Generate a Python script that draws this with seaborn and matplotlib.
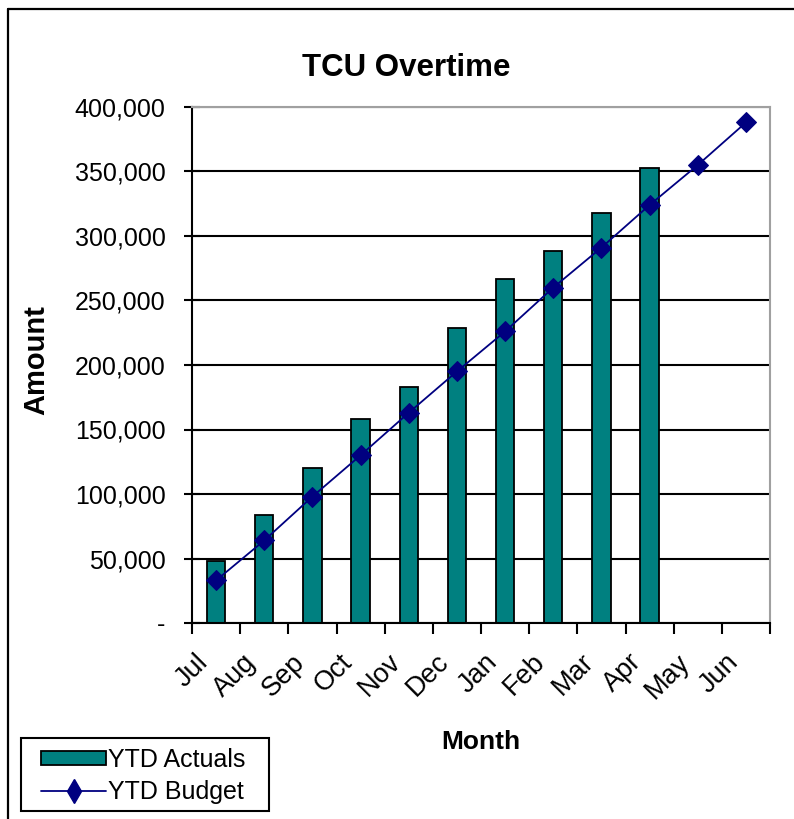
import numpy as np
import pandas as pd
import matplotlib
matplotlib.use("Agg")
import matplotlib.pyplot as plt
from matplotlib.lines import Line2D
from matplotlib.patches import Rectangle
from matplotlib.ticker import FuncFormatter, FixedLocator
from matplotlib.transforms import offset_copy
import seaborn as sns

months = ["Jul", "Aug", "Sep", "Oct", "Nov", "Dec",
          "Jan", "Feb", "Mar", "Apr", "May", "Jun"]
ytd_actuals = [48000, 84000, 120000, 158000, 183000, 229000,
               267000, 288000, 318000, 353000, np.nan, np.nan]
ytd_budget = [33000, 64000, 98000, 130000, 163000, 195000,
              226000, 260000, 291000, 324000, 355000, 388000]
y_ticks = [0, 50000, 100000, 150000, 200000, 250000, 300000, 350000, 400000]

sns.set_theme(style="white")
plt.rcParams["font.family"] = ["Liberation Sans", "DejaVu Sans"]
plt.rcParams.update({"text.color": "black", "axes.labelcolor": "black",
                     "xtick.color": "black", "ytick.color": "black"})

df = pd.DataFrame({"Month": months, "YTD Actuals": ytd_actuals,
                   "YTD Budget": ytd_budget})

W, H = 794, 819
fig = plt.figure(figsize=(W / 100, H / 100), dpi=100)
ax = fig.add_axes([192 / W, 1 - 623 / H, 578 / W, 516 / H])

teal = "#008080"
navy = "#000080"

ax.yaxis.set_major_locator(FixedLocator(y_ticks))
ax.grid(axis="y", color="black", linewidth=1.5)
ax.set_axisbelow(True)

sns.barplot(data=df, x="Month", y="YTD Actuals", color=teal, width=0.38,
            edgecolor="black", linewidth=1.3, saturation=1, ax=ax)
sns.lineplot(x=np.arange(len(months)), y=ytd_budget, color=navy,
             linewidth=1.3, marker="D", markersize=10, markeredgecolor=navy,
             ax=ax)

ax.set_xlim(-0.5, len(months) - 0.5)
ax.set_ylim(0, 400000)

# axis frame
for side in ("left", "bottom"):
    ax.spines[side].set_color("black")
    ax.spines[side].set_linewidth(1.5)
for side in ("top", "right"):
    ax.spines[side].set_color("#a0a0a0")
    ax.spines[side].set_linewidth(1.5)

ax.yaxis.set_major_formatter(
    FuncFormatter(lambda v, p: "-" if v == 0 else f"{v:,.0f}"))
ax.tick_params(axis="y", direction="inout", length=12, width=1.5,
               color="black", labelsize=18, pad=13, left=True)

ax.set_xticks(np.arange(len(months)))
ax.set_xticklabels(months, rotation=45, ha="right", rotation_mode="anchor")
ax.set_xticks(np.arange(-0.5, len(months)), minor=True)
ax.tick_params(axis="x", which="major", length=0, labelsize=19.5, pad=13)
ax.tick_params(axis="x", which="minor", direction="out", length=8,
               width=1.5, color="black", bottom=True)
for lbl in ax.get_xticklabels():
    lbl.set_transform(offset_copy(lbl.get_transform(), fig=fig,
                                  x=-21, y=-8, units="dots"))

ax.set_xlabel("Month", fontsize=19, fontweight="bold")
ax.set_ylabel("Amount", fontsize=21, fontweight="bold")
ax.xaxis.set_label_coords(0.5, -0.207)
ax.yaxis.set_label_coords(-0.2457, 0.51)

fig.text(406 / W, 1 - 68 / H, "TCU Overtime", fontsize=22.5,
         fontweight="bold", ha="center", va="center")

# chart-area border (left and top edges)
fig.add_artist(Line2D([8 / W, 8 / W], [0, 1 - 9 / H],
                      transform=fig.transFigure, color="black", linewidth=1.6))
fig.add_artist(Line2D([8 / W, 1], [1 - 9 / H, 1 - 9 / H],
                      transform=fig.transFigure, color="black", linewidth=1.6))

# legend box
fig.add_artist(Rectangle((21 / W, 1 - 811 / H), 248 / W, 73 / H,
                         transform=fig.transFigure, facecolor="white",
                         edgecolor="black", linewidth=1.5))
handles = [
    Rectangle((0, 0), 1, 1, facecolor=teal, edgecolor="black", linewidth=1.3),
    Line2D([], [], color=navy, linewidth=1.3, marker="d", markersize=12,
           markeredgecolor=navy),
]
leg = fig.legend(handles, ["YTD Actuals", "YTD Budget"],
                 loc="upper left", bbox_to_anchor=(41 / W, 1 - 748 / H),
                 fontsize=18, frameon=False,
                 handlelength=2.6, handleheight=0.45, handletextpad=0.1,
                 borderpad=0, labelspacing=0.3, borderaxespad=0)
for t in leg.get_texts():
    t.set_color("black")

fig.savefig("out.png", dpi=100, facecolor="white")
